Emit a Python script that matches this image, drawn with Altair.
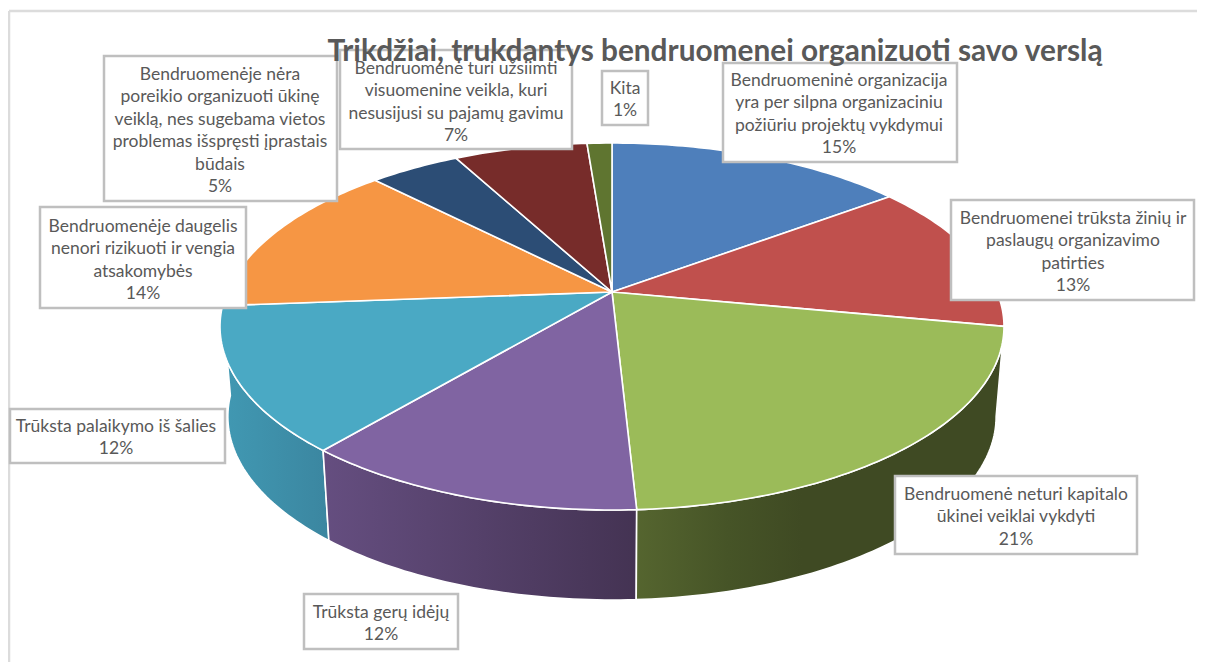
import math
import altair as alt
import pandas as pd

TITLE = "Trikdžiai, trukdantys bendruomenei organizuoti savo verslą"

# Slice shares, clockwise from 12 o'clock
categories = [
    "Bendruomeninė organizacija\nyra per silpna organizaciniu\npožiūriu projektų vykdymui",
    "Bendruomenei trūksta žinių ir\npaslaugų organizavimo\npatirties",
    "Bendruomenė neturi kapitalo\nūkinei veiklai vykdyti",
    "Trūksta gerų idėjų",
    "Trūksta palaikymo iš šalies",
    "Bendruomenėje daugelis\nnenori rizikuoti ir vengia\natsakomybės",
    "Bendruomenėje nėra\nporeikio organizuoti ūkinę\nveiklą, nes sugebama vietos\nproblemas išspręsti įprastais\nbūdais",
    "Bendruomenė turi užsiimti\nvisuomenine veikla, kuri\nnesusijusi su pajamų gavimu",
    "Kita",
]
shares = [14.8, 13.2, 21.17, 11.93, 12.7, 13.9, 4.47, 6.6, 1.23]
percent_labels = ["15%", "13%", "21%", "12%", "12%", "14%", "5%", "7%", "1%"]
face_colors = ["#4e7fbb", "#c0504d", "#9bbb59", "#8064a2", "#4aa9c4",
               "#f69644", "#2c4d75", "#772c2a", "#5f7530"]

# Side walls: slice index -> gradient stops (offset, colour)
wall_stops = {
    4: [(0, "#4199b3"), (1, "#3b86a0")],
    3: [(0, "#654e80"), (1, "#443353")],
    2: [(0, "#55652f"), (0.25, "#465427"), (0.45, "#3f4a23"), (1, "#3f4a23")],
}

# Label boxes in chart pixels: x0, x1, y0, y1, text centre x, first line y
box_x0 = [723, 951, 895, 304, 10, 40, 104, 340, 602]
box_x1 = [957, 1194, 1137, 458, 225, 246, 337, 572, 648]
box_y0 = [63, 200, 476, 594, 409, 207, 56, 50, 71]
box_y1 = [162, 300, 554, 649, 463, 308, 201, 149, 125]
text_x = [839, 1073, 1016, 381, 116, 143, 220, 456, 625]
text_y = [81, 219, 495, 613, 427, 227, 75, 69, 89]
LINE_H = 22.4

FONT = "Lato"
TEXT_C = "#595959"

X_SCALE = alt.Scale(domain=[8, 1197], nice=False, zero=False)
Y_SCALE = alt.Scale(domain=[662, 8], nice=False, zero=False)


def project(theta, y0, xs):
    u, v = math.sin(theta), -math.cos(theta)
    d = 1 - 0.188 * v
    return 612 + xs * 385 * u / d, y0 + 177 * v / d


def arc(a, b, y0, xs):
    n = max(4, int(abs(b - a) * 60))
    return [project(a + (b - a) * i / n, y0, xs) for i in range(n + 1)]


cum = [0]
for s in shares:
    cum.append(cum[-1] + s)
angles = [c / sum(shares) * 2 * math.pi for c in cum]


def poly_layer(pts, fill):
    pts = list(pts) + [pts[0]]
    df = pd.DataFrame({"x": [p[0] for p in pts], "y": [p[1] for p in pts], "i": range(len(pts))})
    return alt.Chart(df).mark_line(fill=fill, stroke="white", strokeWidth=1.6, strokeJoin="round").encode(
        x=alt.X("x:Q", scale=X_SCALE, axis=None),
        y=alt.Y("y:Q", scale=Y_SCALE, axis=None),
        order="i:Q",
    )


layers = []

# frame
frame = pd.DataFrame({"x": [9, 9], "x2": [1197, 9], "y": [11, 11], "y2": [11, 662]})
layers.append(alt.Chart(frame).mark_rule(color="#dcdcdc", strokeWidth=2.5).encode(
    x=alt.X("x:Q", scale=X_SCALE, axis=None), x2="x2:Q",
    y=alt.Y("y:Q", scale=Y_SCALE, axis=None), y2="y2:Q"))

# walls
for idx in (4, 3, 2):
    a, b = angles[idx], angles[idx + 1]
    top = arc(a, b, 292, 1.0)
    bottom = arc(a, b, 382, 0.98)
    grad = alt.Gradient(gradient="linear", x1=0, x2=1, y1=0, y2=0,
                        stops=[alt.GradientStop(offset=o, color=c) for o, c in wall_stops[idx]])
    layers.append(poly_layer(top + bottom[::-1], grad))

# top faces
for i, col in enumerate(face_colors):
    layers.append(poly_layer([(612, 292)] + arc(angles[i], angles[i + 1], 292, 1.0), col))

# label boxes
boxes = pd.DataFrame({"x": box_x0, "x2": box_x1, "y": box_y0, "y2": box_y1})
layers.append(alt.Chart(boxes).mark_rect(fill="white", stroke="#bfbfbf", strokeWidth=2.5).encode(
    x=alt.X("x:Q", scale=X_SCALE, axis=None), x2="x2:Q",
    y=alt.Y("y:Q", scale=Y_SCALE, axis=None), y2="y2:Q"))

# label text
rows = []
for i, cat in enumerate(categories):
    for j, line in enumerate(cat.split("\n") + [percent_labels[i]]):
        rows.append({"x": text_x[i], "y": text_y[i] + j * LINE_H, "t": line})
layers.append(alt.Chart(pd.DataFrame(rows)).mark_text(
    font=FONT, fontSize=17.5, color=TEXT_C, align="center", baseline="middle").encode(
    x=alt.X("x:Q", scale=X_SCALE, axis=None),
    y=alt.Y("y:Q", scale=Y_SCALE, axis=None),
    text="t:N"))

# title
title_df = pd.DataFrame({"x": [715], "y": [52], "t": [TITLE]})
layers.append(alt.Chart(title_df).mark_text(
    font=FONT, fontSize=29.8, fontWeight="bold", color=TEXT_C, align="center", baseline="middle").encode(
    x=alt.X("x:Q", scale=X_SCALE, axis=None),
    y=alt.Y("y:Q", scale=Y_SCALE, axis=None),
    text="t:N"))

chart = alt.layer(*layers).properties(
    width=1189, height=654, padding=0, background="white",
    autosize=alt.AutoSizeParams(type="none", contains="padding"),
).configure_view(stroke=None)

chart.save("out.html", embed_options={"renderer": "svg", "actions": False})
